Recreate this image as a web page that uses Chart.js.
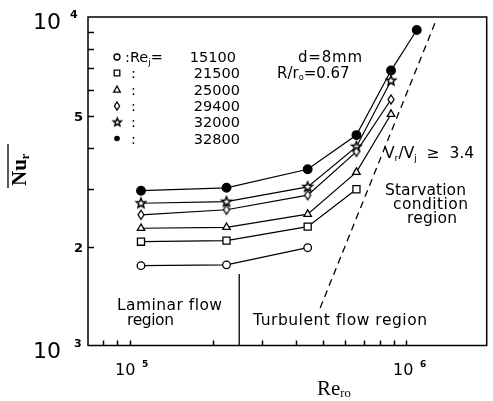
<!DOCTYPE html>
<html>
<head>
<meta charset="utf-8">
<script src="https://cdn.jsdelivr.net/npm/chart.js@4.4.1/dist/chart.umd.min.js"></script>
<style>
  html, body { margin: 0; padding: 0; background: #fff; }
  canvas { display: block; }
</style>
</head>
<body>
<canvas id="nuChart" width="493" height="401"></canvas>
<script>
(function () {
  "use strict";

  // --- data ---
  const reRo = [1.1e5, 2.24e5, 4.4e5, 6.6e5, 8.8e5, 1.09e6];
  const reJet = ["15100", "21500", "25000", "29400", "32000", "32800"];
  const nu15100 = [1750, 1760, 1985];
  const nu21500 = [2070, 2085, 2300, 2990];
  const nu25000 = [2275, 2290, 2510, 3370, 5060];
  const nu29400 = [2500, 2590, 2870, 3890, 5610];
  const nu32000 = [2710, 2740, 3040, 4030, 6400];
  const nu32800 = [2960, 3020, 3440, 4370, 6870, 9130];
  const starveRe = [4.88e5, 1.27e6];
  const starveNu = [1300, 9610];
  const laminarRe = [2.49e5, 2.49e5];
  const laminarNu = [1000, 1650];
  const xTickValues = [8e4, 9e4, 1e5, 2e5, 3e5, 4e5, 5e5, 6e5, 7e5, 8e5, 9e5, 1e6];
  const yTickValues = [2000, 3000, 4000, 5000, 6000, 7000, 8000, 9000];

  const FONT = '"DejaVu Sans", sans-serif';

  function toPoints(vals) {
    return vals.map((v, i) => ({ x: reRo[i], y: v }));
  }

  function makeStar(r) {
    const s = Math.ceil(r * 2 + 4);
    const c = document.createElement("canvas");
    c.width = s; c.height = s;
    const g = c.getContext("2d");
    g.beginPath();
    for (let i = 0; i < 10; i++) {
      const a = -Math.PI / 2 + i * Math.PI / 5;
      const rr = i % 2 ? r * 0.45 : r;
      g.lineTo(s / 2 + rr * Math.cos(a), s / 2 + rr * Math.sin(a));
    }
    g.closePath();
    g.fillStyle = "#fff"; g.fill();
    g.lineWidth = 1.5; g.strokeStyle = "#000"; g.stroke();
    return c;
  }

  function makeDiamond(w, h) {
    const c = document.createElement("canvas");
    c.width = w + 4; c.height = h + 4;
    const g = c.getContext("2d");
    const cx = c.width / 2, cy = c.height / 2;
    g.beginPath();
    g.moveTo(cx, cy - h / 2); g.lineTo(cx + w / 2, cy);
    g.lineTo(cx, cy + h / 2); g.lineTo(cx - w / 2, cy);
    g.closePath();
    g.fillStyle = "#fff"; g.fill();
    g.lineWidth = 1.3; g.strokeStyle = "#000"; g.stroke();
    return c;
  }

  const starImg = makeStar(5);
  const diamondImg = makeDiamond(6, 9);

  function series(label, vals, style, bg, radius) {
    return {
      label,
      data: toPoints(vals),
      borderColor: "#000",
      backgroundColor: bg,
      borderWidth: 1.2,
      pointStyle: style,
      pointRadius: radius,
      pointBorderWidth: 1.3,
      pointBorderColor: "#000",
      pointBackgroundColor: bg,
      tension: 0
    };
  }

  function lineDs(xs, ys, dash) {
    return {
      label: "",
      data: xs.map((x, i) => ({ x, y: ys[i] })),
      borderColor: "#000",
      borderWidth: 1.3,
      borderDash: dash,
      pointRadius: 0,
      tension: 0
    };
  }

  // sub/superscript text helper: parts = [text, scale, dy]
  function drawRich(ctx, parts, x, y, size, weight, family) {
    let cx = x;
    parts.forEach(p => {
      const sz = size * (p[1] || 1);
      ctx.font = (weight || "") + " " + sz + "px " + (family || FONT);
      ctx.fillText(p[0], cx, y + (p[2] || 0));
      cx += ctx.measureText(p[0]).width;
    });
  }

  function fitText(ctx, text, x, y, width) {
    ctx.letterSpacing = "0px";
    const n = text.length;
    const w = ctx.measureText(text).width;
    ctx.letterSpacing = ((width - w) / Math.max(1, n - 1)) + "px";
    ctx.fillText(text, x, y);
    ctx.letterSpacing = "0px";
  }

  function legendMark(ctx, kind, x, y) {
    ctx.save();
    ctx.lineWidth = 1.3;
    ctx.strokeStyle = "#000";
    ctx.fillStyle = "#000";
    ctx.beginPath();
    if (kind === 0) { ctx.arc(x, y, 3, 0, Math.PI * 2); ctx.stroke(); }
    else if (kind === 1) { ctx.rect(x - 2.8, y - 2.8, 5.6, 5.6); ctx.stroke(); }
    else if (kind === 2) { ctx.moveTo(x, y - 3.5); ctx.lineTo(x + 3.3, y + 2.6); ctx.lineTo(x - 3.3, y + 2.6); ctx.closePath(); ctx.stroke(); }
    else if (kind === 3) { ctx.moveTo(x, y - 4); ctx.lineTo(x + 2.6, y); ctx.lineTo(x, y + 4); ctx.lineTo(x - 2.6, y); ctx.closePath(); ctx.stroke(); }
    else if (kind === 4) { ctx.drawImage(makeStar(4.2), x - 6.2, y - 6.2); }
    else { ctx.arc(x, y, 2.8, 0, Math.PI * 2); ctx.fill(); }
    ctx.restore();
  }

  const decorPlugin = {
    id: "decor",
    afterDraw(chart) {
      const ctx = chart.ctx;
      const a = chart.chartArea;
      const xs = chart.scales.x, ys = chart.scales.y;
      ctx.save();
      ctx.strokeStyle = "#000";
      ctx.fillStyle = "#000";

      // frame
      ctx.lineWidth = 1.5;
      ctx.strokeRect(a.left, a.top, a.right - a.left, a.bottom - a.top);

      // inward ticks
      ctx.lineWidth = 1.5;
      ctx.beginPath();
      xTickValues.forEach(v => {
        const px = Math.round(xs.getPixelForValue(v)) + 0.5;
        ctx.moveTo(px, a.bottom); ctx.lineTo(px, a.bottom - 5);
      });
      yTickValues.forEach(v => {
        const py = Math.round(ys.getPixelForValue(v)) + 0.5;
        ctx.moveTo(a.left, py); ctx.lineTo(a.left + 6, py);
      });
      ctx.stroke();

      // axis numbers
      ctx.textBaseline = "alphabetic";
      ctx.textAlign = "left";
      ctx.font = "22px " + FONT;
      ctx.fillText("10", 33, 29);
      ctx.fillText("10", 33, 358);
      ctx.font = "bold 11px " + FONT;
      ctx.fillText("4", 70, 18);
      ctx.fillText("3", 74, 347);
      ctx.font = "bold 13px " + FONT;
      ctx.fillText("5", 74, ys.getPixelForValue(5000) + 5);
      ctx.fillText("2", 74, ys.getPixelForValue(2000) + 5);

      ctx.font = "16px " + FONT;
      ctx.fillText("10", 115, 375);
      ctx.fillText("10", 393, 375);
      ctx.font = "bold 9px " + FONT;
      ctx.fillText("5", 142, 367);
      ctx.fillText("6", 420, 367);

      // x title
      drawRich(ctx, [["Re", 1, 0], ["ro", 0.6, 2]], 317, 395, 21, "", '"Liberation Serif", serif');

      // y title (rotated, with overline)
      ctx.save();
      ctx.translate(26, 186);
      ctx.rotate(-Math.PI / 2);
      drawRich(ctx, [["Nu", 1, 0], ["r", 0.6, 3]], 0, 0, 21, "bold", '"Liberation Serif", serif');
      ctx.lineWidth = 1.3;
      ctx.beginPath(); ctx.moveTo(-2, -18); ctx.lineTo(42, -18); ctx.stroke();
      ctx.restore();

      // legend
      const rows = [57, 73, 89.5, 106, 122, 138.5];
      rows.forEach((ry, i) => {
        legendMark(ctx, i, 117, ry);
        ctx.textAlign = "left";
        ctx.font = "14.5px " + FONT;
        if (i === 0) {
          drawRich(ctx, [[":Re", 1, 0], ["j", 0.6, 3], ["=", 1, 0]], 125, ry + 5, 14.5);
        } else {
          ctx.fillText(":", 131, ry + 5);
        }
        ctx.textAlign = "right";
        ctx.font = "14.5px " + FONT;
        ctx.fillText(reJet[i], i === 0 ? 236 : 240, ry + 5);
      });
      ctx.textAlign = "left";

      // conditions
      ctx.font = "15px " + FONT;
      fitText(ctx, "d=8mm", 298, 62, 64);
      drawRich(ctx, [["R/r", 1, 0], ["o", 0.55, 2], ["=0.67", 1, 0]], 277, 78, 15);

      // region labels
      drawRich(ctx, [["V", 1, 0], ["r", 0.6, 3], ["/V", 1, 0], ["j", 0.6, 3], ["  \u2265  3.4", 1, 0]], 384, 158, 15.5, "");
      ctx.font = "15.5px " + FONT;
      fitText(ctx, "Starvation", 385, 195, 81);
      fitText(ctx, "condition", 393, 209, 75);
      fitText(ctx, "region", 407, 223, 50);
      fitText(ctx, "Laminar flow", 117, 310, 105);
      fitText(ctx, "region", 127, 325, 47);
      fitText(ctx, "Turbulent flow region", 253, 325, 174);

      ctx.restore();
    }
  };

  function init() {
    const canvas = document.getElementById("nuChart");
    if (!canvas || typeof Chart === "undefined") return;

    new Chart(canvas.getContext("2d"), {
      type: "line",
      data: {
        datasets: [
          lineDs(starveRe, starveNu, [7, 5]),
          lineDs(laminarRe, laminarNu, []),
          series("15100", nu15100, "circle", "#fff", 3.8),
          series("21500", nu21500, "rect", "#fff", 5),
          series("25000", nu25000, "triangle", "#fff", 4.3),
          series("29400", nu29400, diamondImg, "#fff", 5),
          series("32000", nu32000, starImg, "#fff", 5),
          series("32800", nu32800, "circle", "#000", 4.3)
        ]
      },
      options: {
        responsive: false,
        animation: false,
        layout: { padding: { left: 88, top: 17, right: 2, bottom: 55.5 } },
        plugins: {
          legend: { display: false },
          tooltip: { enabled: false }
        },
        scales: {
          x: { type: "logarithmic", min: 7.08e4, max: 1.95e6, display: false },
          y: { type: "logarithmic", min: 1000, max: 10000, display: false }
        }
      },
      plugins: [decorPlugin]
    });
  }

  document.addEventListener("DOMContentLoaded", init);
})();
</script>
</body>
</html>
